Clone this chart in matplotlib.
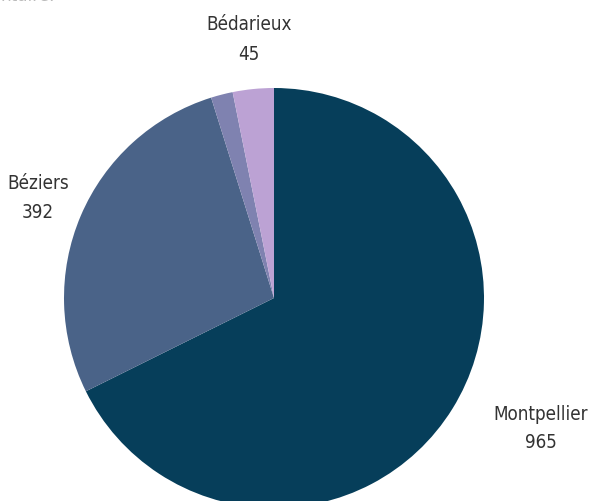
import matplotlib.pyplot as plt

# données
villes = ['Montpellier', 'Béziers', 'Autre', 'Bédarieux']
valeurs = [965, 392, 24, 45]
couleurs = ['#063e5a', '#4a6388', '#7f82b0', '#bca2d4']
afficher = [True, True, False, True]

plt.rcParams['font.family'] = ['DejaVu Sans']

W, H = 589, 501
fig = plt.figure(figsize=(W / 100, H / 100), dpi=100)

# centre du camembert ~ (274, 298) px, rayon ~ 210 px
cx, cy, r = 274, 298, 210
ax = fig.add_axes([(cx - r) / W, (H - cy - r) / H, 2 * r / W, 2 * r / H])
ax.pie(valeurs, colors=couleurs, startangle=90, counterclock=False,
       radius=1, wedgeprops=dict(linewidth=0))
ax.set_xlim(-1, 1)
ax.set_ylim(-1, 1)
ax.set_aspect('equal')
ax.axis('off')

# positions des étiquettes (px) : x, y du nom, y de la valeur
pos = {'Montpellier': (541, 414, 443), 'Béziers': (38, 184, 212),
       'Bédarieux': (249, 25, 55)}
style = dict(ha='center', va='center', fontsize=13.5, color='#333333',
             fontstretch='condensed')
for nom, val, ok in zip(villes, valeurs, afficher):
    if not ok:
        continue
    x, y1, y2 = pos[nom]
    fig.text(x / W, 1 - y1 / H, nom, **style)
    fig.text(x / W, 1 - y2 / H, str(val), **style)

# texte coupé en haut à gauche
fig.text(0.0, 1 - 1 / H, 'ntaire.', ha='left', va='baseline', fontsize=13.5,
         color='#bbbbbb', fontstretch='condensed')

fig.savefig('out.png', dpi=100)
